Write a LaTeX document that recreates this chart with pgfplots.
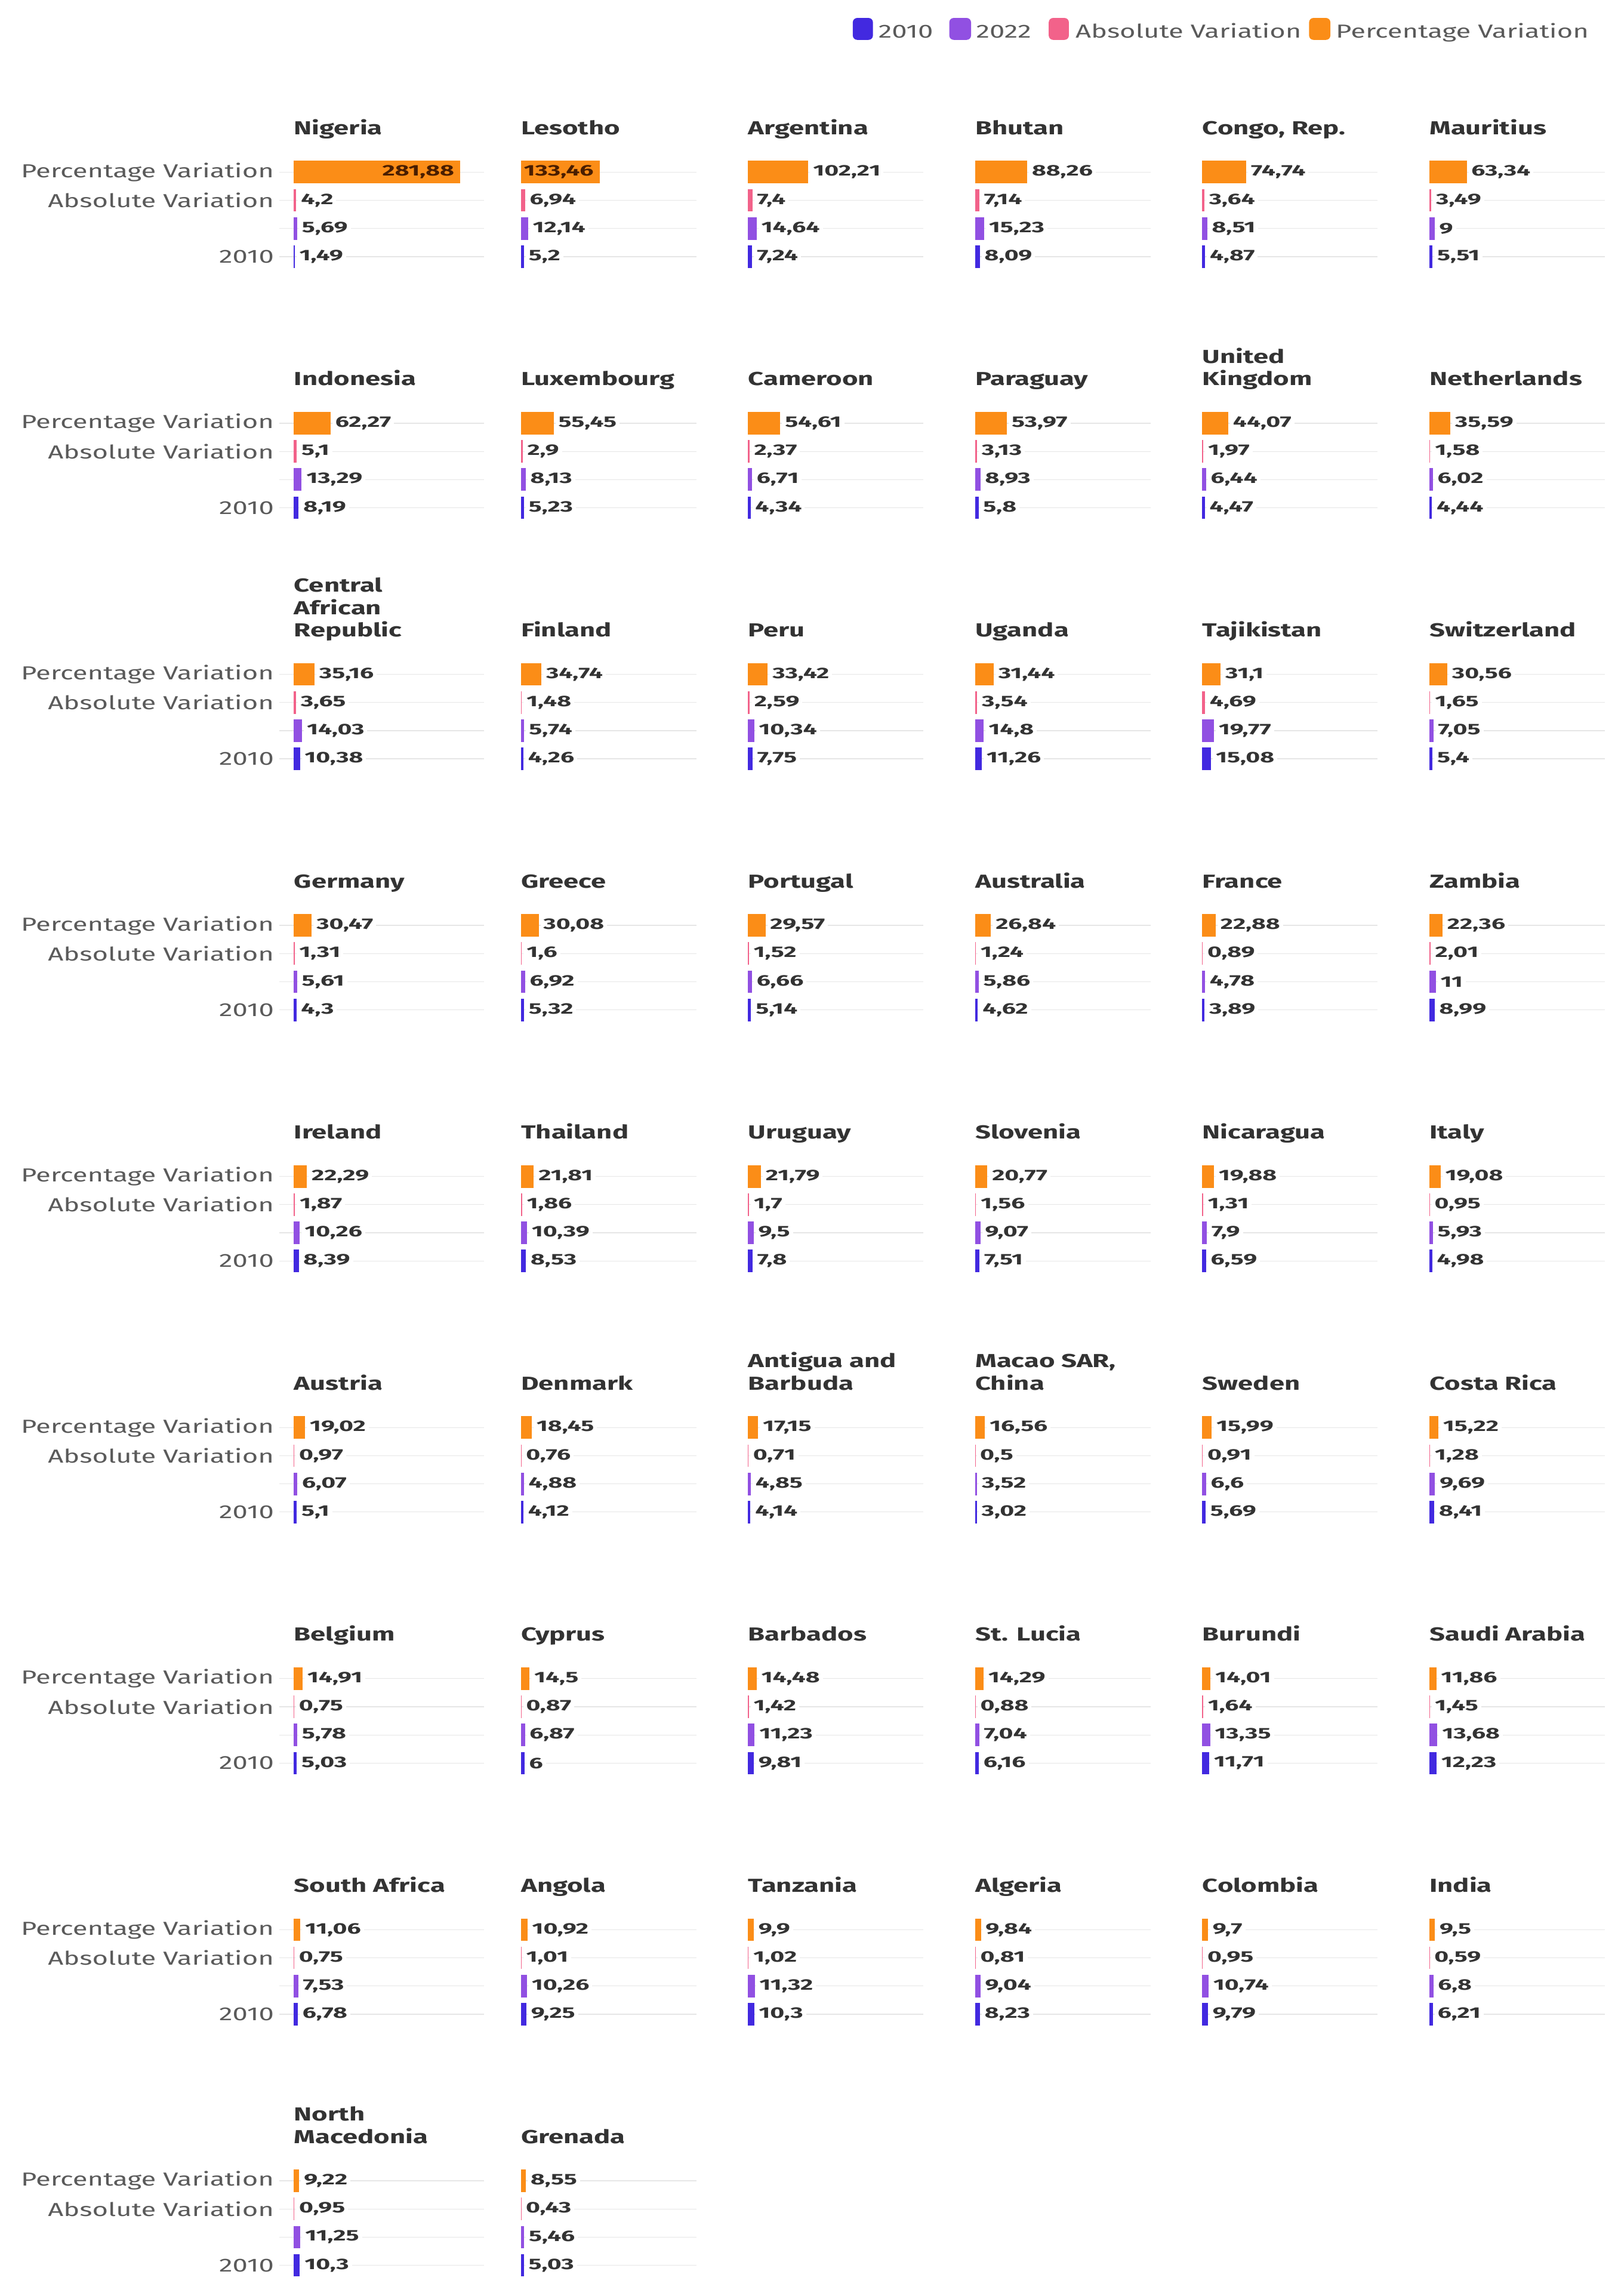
\documentclass[border=0pt]{standalone}
\usepackage{fontspec}
\setmainfont{Fira Sans}[FakeStretch=1.44]
\newfontfamily\valfam{Fira Sans}[FakeStretch=1.6]
\usepackage{pgfplots}
\pgfplotsset{compat=1.18}

\definecolor{c2010}{HTML}{4229E0}
\definecolor{c2022}{HTML}{9150E2}
\definecolor{cabs}{HTML}{F2628A}
\definecolor{cpct}{HTML}{FB8D17}
\definecolor{gridc}{HTML}{E6E6E6}
\definecolor{titc}{HTML}{333333}
\definecolor{labc}{HTML}{5A5A5A}
\definecolor{valc}{HTML}{333333}
\definecolor{insc}{HTML}{4A1E00}

\newcommand\labfont{\fontsize{12.8}{15.2}\selectfont}
\newcommand\titfont{\fontsize{12.8}{15.2}\selectfont\bfseries}
\newcommand\valfont{\valfam\fontsize{10.4}{12}\selectfont\bfseries}

\pgfplotsset{
  panel/.style={
    xbar, bar width=15.3pt, bar shift=0pt,
    scale only axis, width=119.3pt, height=76.6pt,
    xmin=0, xmax=297, ymin=-0.5, ymax=3.5,
    anchor=north west, clip=false,
    axis line style={draw=none},
    xtick=\empty, ytick={0,1,2,3}, yticklabels={},
    ymajorgrids, grid style={gridc, line width=0.5pt},
    major tick length=0pt,
    point meta=x,
    nodes near coords,
    every node near coord/.append style={font=\valfont, text=valc, fill=white,
      inner xsep=2pt, inner ysep=0.5pt, anchor=west, xshift=1pt},
    /pgf/number format/.cd, use comma, fixed, precision=2, 1000 sep={},
      assume math mode=true, /pgfplots/.cd,
    title style={at={(0,1)}, anchor=base west, yshift=10pt, inner sep=0pt,
      font=\titfont, text=titc},
  },
  col0/.style={yticklabels={2010,,Absolute Variation,Percentage Variation},
    major tick length=10pt, tick align=outside,
    ytick style={gridc, line width=0.5pt},
    yticklabel style={font=\labfont, text=labc}},
  col1/.style={}, col2/.style={}, col3/.style={}, col4/.style={}, col5/.style={},
  pctin/.style={every node near coord/.append style={anchor=east, fill=none,
    text=insc, xshift=-3pt}},
  pctout/.style={},
}

% #1 column, #2 row, #3 country, #4 percentage var., #5 absolute var., #6 2022, #7 2010, #8 in/out
\newcommand\panel[8]{%
  \begin{axis}[panel, col#1,
    at={({199.75pt+154.4pt*#1},{-107.425pt-170.66pt*#2})},
    title={\begin{tabular}[b]{@{}l@{}}#3\end{tabular}}]
    \addplot[fill=cpct, draw=none, pct#8] coordinates {(#4,3)};
    \addplot[fill=cabs, draw=none] coordinates {(#5,2)};
    \addplot[fill=c2022, draw=none] coordinates {(#6,1)};
    \addplot[fill=c2010, draw=none] coordinates {(#7,0)};
  \end{axis}}

\begin{document}
\begin{tikzpicture}
\path[use as bounding box] (0,0) rectangle (1100pt,-1560.6pt);

% legend
\fill[c2010, rounded corners=3pt] (579.8pt,-12.2pt) rectangle (593.5pt,-27.1pt);
\fill[c2022, rounded corners=3pt] (645.4pt,-12.2pt) rectangle (660.2pt,-27.1pt);
\fill[cabs, rounded corners=3pt] (713pt,-12.2pt) rectangle (726.7pt,-27.1pt);
\fill[cpct, rounded corners=3pt] (890pt,-12.2pt) rectangle (904.5pt,-27.1pt);
\begin{scope}[every node/.style={anchor=base west, inner sep=0pt, font=\labfont, text=labc}]
\node at (597pt,-25.7pt) {2010};
\node at (663.5pt,-25.7pt) {2022};
\node at (731pt,-25.7pt) {Absolute Variation};
\node at (908pt,-25.7pt) {Percentage Variation};
\end{scope}

\panel{0}{0}{Nigeria}{281.88}{4.2}{5.69}{1.49}{in}
\panel{1}{0}{Lesotho}{133.46}{6.94}{12.14}{5.2}{in}
\panel{2}{0}{Argentina}{102.21}{7.4}{14.64}{7.24}{out}
\panel{3}{0}{Bhutan}{88.26}{7.14}{15.23}{8.09}{out}
\panel{4}{0}{Congo, Rep.}{74.74}{3.64}{8.51}{4.87}{out}
\panel{5}{0}{Mauritius}{63.34}{3.49}{9}{5.51}{out}

\panel{0}{1}{Indonesia}{62.27}{5.1}{13.29}{8.19}{out}
\panel{1}{1}{Luxembourg}{55.45}{2.9}{8.13}{5.23}{out}
\panel{2}{1}{Cameroon}{54.61}{2.37}{6.71}{4.34}{out}
\panel{3}{1}{Paraguay}{53.97}{3.13}{8.93}{5.8}{out}
\panel{4}{1}{United\\Kingdom}{44.07}{1.97}{6.44}{4.47}{out}
\panel{5}{1}{Netherlands}{35.59}{1.58}{6.02}{4.44}{out}

\panel{0}{2}{Central\\African\\Republic}{35.16}{3.65}{14.03}{10.38}{out}
\panel{1}{2}{Finland}{34.74}{1.48}{5.74}{4.26}{out}
\panel{2}{2}{Peru}{33.42}{2.59}{10.34}{7.75}{out}
\panel{3}{2}{Uganda}{31.44}{3.54}{14.8}{11.26}{out}
\panel{4}{2}{Tajikistan}{31.1}{4.69}{19.77}{15.08}{out}
\panel{5}{2}{Switzerland}{30.56}{1.65}{7.05}{5.4}{out}

\panel{0}{3}{Germany}{30.47}{1.31}{5.61}{4.3}{out}
\panel{1}{3}{Greece}{30.08}{1.6}{6.92}{5.32}{out}
\panel{2}{3}{Portugal}{29.57}{1.52}{6.66}{5.14}{out}
\panel{3}{3}{Australia}{26.84}{1.24}{5.86}{4.62}{out}
\panel{4}{3}{France}{22.88}{0.89}{4.78}{3.89}{out}
\panel{5}{3}{Zambia}{22.36}{2.01}{11}{8.99}{out}

\panel{0}{4}{Ireland}{22.29}{1.87}{10.26}{8.39}{out}
\panel{1}{4}{Thailand}{21.81}{1.86}{10.39}{8.53}{out}
\panel{2}{4}{Uruguay}{21.79}{1.7}{9.5}{7.8}{out}
\panel{3}{4}{Slovenia}{20.77}{1.56}{9.07}{7.51}{out}
\panel{4}{4}{Nicaragua}{19.88}{1.31}{7.9}{6.59}{out}
\panel{5}{4}{Italy}{19.08}{0.95}{5.93}{4.98}{out}

\panel{0}{5}{Austria}{19.02}{0.97}{6.07}{5.1}{out}
\panel{1}{5}{Denmark}{18.45}{0.76}{4.88}{4.12}{out}
\panel{2}{5}{Antigua and\\Barbuda}{17.15}{0.71}{4.85}{4.14}{out}
\panel{3}{5}{Macao SAR,\\China}{16.56}{0.5}{3.52}{3.02}{out}
\panel{4}{5}{Sweden}{15.99}{0.91}{6.6}{5.69}{out}
\panel{5}{5}{Costa Rica}{15.22}{1.28}{9.69}{8.41}{out}

\panel{0}{6}{Belgium}{14.91}{0.75}{5.78}{5.03}{out}
\panel{1}{6}{Cyprus}{14.5}{0.87}{6.87}{6}{out}
\panel{2}{6}{Barbados}{14.48}{1.42}{11.23}{9.81}{out}
\panel{3}{6}{St. Lucia}{14.29}{0.88}{7.04}{6.16}{out}
\panel{4}{6}{Burundi}{14.01}{1.64}{13.35}{11.71}{out}
\panel{5}{6}{Saudi Arabia}{11.86}{1.45}{13.68}{12.23}{out}

\panel{0}{7}{South Africa}{11.06}{0.75}{7.53}{6.78}{out}
\panel{1}{7}{Angola}{10.92}{1.01}{10.26}{9.25}{out}
\panel{2}{7}{Tanzania}{9.9}{1.02}{11.32}{10.3}{out}
\panel{3}{7}{Algeria}{9.84}{0.81}{9.04}{8.23}{out}
\panel{4}{7}{Colombia}{9.7}{0.95}{10.74}{9.79}{out}
\panel{5}{7}{India}{9.5}{0.59}{6.8}{6.21}{out}

\panel{0}{8}{North\\Macedonia}{9.22}{0.95}{11.25}{10.3}{out}
\panel{1}{8}{Grenada}{8.55}{0.43}{5.46}{5.03}{out}
\end{tikzpicture}
\end{document}
